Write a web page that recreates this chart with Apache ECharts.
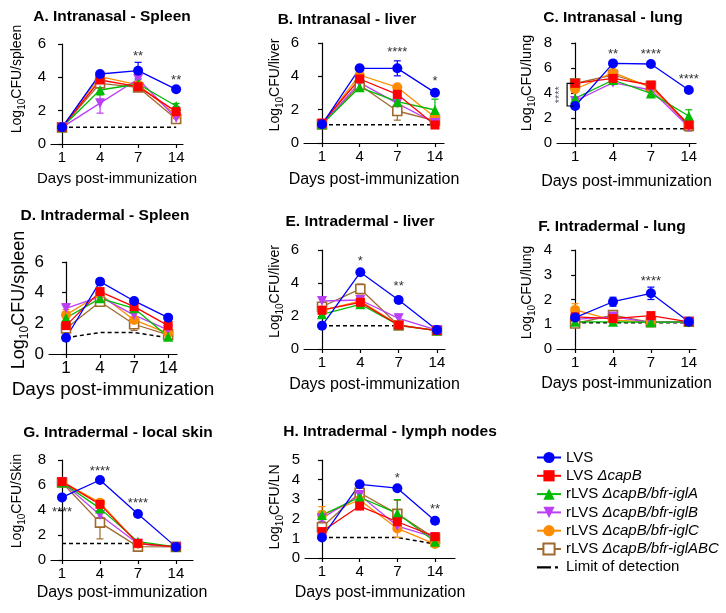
<!DOCTYPE html>
<html><head><meta charset="utf-8">
<script src="https://cdn.jsdelivr.net/npm/echarts@6/dist/echarts.min.js"></script>
<style>html,body{margin:0;padding:0;background:#fff}#c{width:726px;height:613px}</style>
</head><body><div id="c"></div>
<script>
// ---------- DATA ----------
const days = ['1', '4', '7', '14'];
const seriesNames = ['LVS', 'LVS ΔcapB', 'rLVS ΔcapB/bfr-iglA', 'rLVS ΔcapB/bfr-iglB', 'rLVS ΔcapB/bfr-iglC', 'rLVS ΔcapB/bfr-iglABC'];
const lodName = 'Limit of detection';
const panelTitles = ['A. Intranasal - Spleen', 'B. Intranasal - liver', 'C. Intranasal - lung',
  'D. Intradermal - Spleen', 'E. Intradermal - liver', 'F. Intradermal - lung',
  'G. Intradermal - local skin', 'H. Intradermal - lymph nodes'];
const yUnits = ['spleen', 'liver', 'lung', 'spleen', 'liver', 'lung', 'Skin', 'LN'];
const yMax = [6, 6, 8, 6, 6, 4, 8, 5];
const yStep = [2, 2, 2, 2, 2, 1, 2, 1];

// series order in each panel: LVS, capB, iglA, iglB, iglC, iglABC
const panelA_mean = [[1.0, 4.2, 4.4, 3.28], [1.0, 3.84, 3.44, 1.94], [1.0, 3.24, 3.6, 2.28], [1.0, 2.45, 3.9, 1.56], [1.0, 4.04, 3.55, 1.74], [1.0, 3.64, 3.4, 1.5]];
const panelA_err = [[0.05, 0.1, 0.5, 0.1], [0.05, 0.2, 0.15, 0.3], [0.05, 0.3, 0.15, 0.15], [0.05, 0.6, 0.2, 0.2], [0.05, 0.15, 0.15, 0.2], [0.05, 0.15, 0.2, 0.2]];
const panelA_lod = [1.0, 1.0, 1.0, 1.0];
const panelA_sig = ['', '', '**', '**'];
const panelA_sigY = [null, null, 5.45, 4.0];

const panelB_mean = [[1.12, 4.48, 4.48, 3.02], [1.2, 3.84, 2.92, 1.08], [1.12, 3.34, 2.48, 1.98], [1.12, 3.62, 2.38, 1.2], [1.15, 4.08, 3.34, 1.54], [1.12, 3.48, 1.92, 1.34]];
const panelB_err = [[0.05, 0.1, 0.45, 0.1], [0.1, 0.2, 0.25, 0.1], [0.05, 0.2, 0.2, 0.65], [0.05, 0.2, 0.2, 0.15], [0.05, 0.15, 0.1, 0.2], [0.05, 0.2, 0.55, 0.2]];
const panelB_lod = [1.1, 1.1, 1.1, 1.1];
const panelB_sig = ['', '', '****', '*'];
const panelB_sigY = [null, null, 5.6, 3.85];

const panelC_mean = [[2.96, 6.37, 6.32, 4.24], [4.77, 5.17, 4.64, 1.44], [3.57, 5.04, 3.97, 2.16], [3.36, 4.83, 4.24, 1.28], [4.3, 5.63, 4.45, 1.5], [4.77, 5.44, 4.56, 1.36]];
const panelC_err = [[0.1, 0.1, 0.1, 0.15], [0.15, 0.15, 0.15, 0.3], [0.1, 0.15, 0.15, 0.5], [0.1, 0.15, 0.15, 0.2], [0.15, 0.15, 0.15, 0.3], [0.1, 0.15, 0.15, 0.4]];
const panelC_lod = [1.15, 1.15, 1.15, 1.15];
const panelC_sig = ['', '**', '****', '****'];
const panelC_sigY = [null, 7.35, 7.35, 5.35];
const panelC_bracket = ['****'];

const panelD_mean = [[1.06, 4.72, 3.46, 2.37], [1.85, 4.07, 3.09, 1.85], [2.35, 3.63, 2.98, 1.13], [2.98, 3.74, 2.54, 1.57], [2.55, 3.9, 2.22, 1.35], [1.67, 3.41, 1.94, 1.25]];
const panelD_err = [[0.05, 0.1, 0.15, 0.1], [0.25, 0.2, 0.2, 0.2], [0.2, 0.2, 0.2, 0.1], [0.3, 0.2, 0.2, 0.15], [0.35, 0.2, 0.2, 0.2], [0.2, 0.15, 0.4, 0.15]];
const panelD_lod = [1.06, 1.4, 1.4, 1.06];
const panelD_sig = ['', '', '', ''];
const panelD_sigY = [null, null, null, null];

const panelE_mean = [[1.41, 4.65, 2.97, 1.15], [2.35, 2.83, 1.45, 1.12], [2.1, 2.71, 1.45, 1.12], [2.91, 2.97, 1.86, 1.15], [2.35, 2.9, 1.45, 1.12], [2.56, 3.64, 1.42, 1.12]];
const panelE_err = [[0.1, 0.1, 0.2, 0.05], [0.25, 0.2, 0.1, 0.05], [0.2, 0.2, 0.1, 0.05], [0.15, 0.2, 0.25, 0.05], [0.25, 0.2, 0.1, 0.05], [0.2, 0.3, 0.1, 0.05]];
const panelE_lod = [1.41, 1.41, 1.41, null];
const panelE_sig = ['', '*', '**', ''];
const panelE_sigY = [null, 5.5, 3.95, null];

const panelF_mean = [[1.27, 1.91, 2.25, 1.1], [1.3, 1.23, 1.35, 1.1], [1.1, 1.1, 1.08, 1.1], [1.2, 1.3, 1.08, 1.1], [1.58, 1.17, 1.1, 1.1], [1.03, 1.37, 1.08, 1.1]];
const panelF_err = [[0.1, 0.18, 0.25, 0.05], [0.1, 0.1, 0.12, 0.05], [0.05, 0.05, 0.05, 0.05], [0.1, 0.1, 0.05, 0.05], [0.25, 0.1, 0.05, 0.05], [0.05, 0.15, 0.05, 0.05]];
const panelF_lod = [1.06, 1.06, 1.06, 1.06];
const panelF_sig = ['', '', '****', ''];
const panelF_sigY = [null, null, 2.85, null];

const panelG_mean = [[5.01, 6.4, 3.68, 1.05], [6.27, 4.45, 1.33, 1.05], [6.2, 4.13, 1.47, 1.05], [6.25, 3.6, 1.3, 1.05], [6.27, 4.59, 1.3, 1.05], [6.2, 2.99, 1.07, 1.05]];
const panelG_err = [[0.1, 0.1, 0.1, 0.05], [0.15, 0.15, 0.15, 0.05], [0.15, 0.2, 0.1, 0.05], [0.15, 0.2, 0.1, 0.05], [0.15, 0.2, 0.1, 0.05], [0.15, 1.3, 0.1, 0.05]];
const panelG_lod = [1.33, 1.33, 1.33, null];
const panelG_sig = ['****', '****', '****', ''];
const panelG_sigY = [4.05, 7.35, 4.8, null];

const panelH_mean = [[1.05, 3.76, 3.56, 1.9], [1.35, 2.65, 1.85, 1.09], [2.19, 3.1, 2.28, 0.83], [2.03, 3.21, 1.63, 1.05], [2.2, 2.96, 1.51, 0.71], [1.57, 3.33, 2.25, 1.0]];
const panelH_err = [[0.08, 0.1, 0.1, 0.15], [0.2, 0.15, 0.2, 0.1], [0.2, 0.2, 0.7, 0.1], [0.2, 0.2, 0.25, 0.1], [0.42, 0.2, 0.45, 0.1], [0.3, 0.2, 0.7, 0.1]];
const panelH_lod = [1.05, 1.05, 1.05, 0.71];
const panelH_sig = ['', '', '*', '**'];
const panelH_sigY = [null, null, 4.2, 2.65];

// ---------- STYLE / LAYOUT ----------
const FF = "'Liberation Sans', Arial, Helvetica, sans-serif";
const colors = ['#0000FF', '#FF0000', '#00BB00', '#BB3FF5', '#FF8C00', '#A0692E'];
const symbols = ['circle', 'rect', 'triangle', 'triangle', 'circle', 'rect'];
const rotates = [0, 0, 0, 180, 0, 0];
const sizes = [10, 9, 10, 10, 10, 9];

const layout = [
  {l: 51, t: 44, w: 132, h: 100, xmin: -0.29, xmax: 3.18, tx: 112, ty: 17, tick: 15, xname: 15, yname: 14, ygap: 24, yshift: 15, xgap: 27},
  {l: 304, t: 43, w: 140, h: 100, xmin: -0.478, xmax: 3.24, tx: 347, ty: 20, tick: 15, xname: 16, yname: 14, ygap: 19, yshift: 8, xgap: 29},
  {l: 557, t: 43, w: 139, h: 100, xmin: -0.478, xmax: 3.19, tx: 613, ty: 18, tick: 15, xname: 16, yname: 14.5, ygap: 20, yshift: 10, xgap: 31},
  {l: 49, t: 262, w: 128, h: 92, xmin: -0.5, xmax: 3.26, tx: 105, ty: 216, tick: 17, xname: 19, yname: 18, ygap: 14, yshift: 8, xgap: 26},
  {l: 304, t: 250, w: 141, h: 99, xmin: -0.47, xmax: 3.21, tx: 360, ty: 222, tick: 15, xname: 16, yname: 14, ygap: 19, yshift: 8, xgap: 28},
  {l: 557, t: 250, w: 139, h: 99, xmin: -0.478, xmax: 3.19, tx: 612, ty: 227, tick: 15, xname: 16, yname: 14, ygap: 20, yshift: 7, xgap: 27},
  {l: 51, t: 460, w: 142, h: 100, xmin: -0.29, xmax: 3.45, tx: 118, ty: 433, tick: 15, xname: 16, yname: 14, ygap: 24, yshift: 9, xgap: 25},
  {l: 305, t: 460, w: 150, h: 98, xmin: -0.45, xmax: 3.53, tx: 390, ty: 432, tick: 15, xname: 16, yname: 14, ygap: 20, yshift: 2, xgap: 27}
];

const panels = [
  [panelA_mean, panelA_err, panelA_lod, panelA_sig, panelA_sigY],
  [panelB_mean, panelB_err, panelB_lod, panelB_sig, panelB_sigY],
  [panelC_mean, panelC_err, panelC_lod, panelC_sig, panelC_sigY],
  [panelD_mean, panelD_err, panelD_lod, panelD_sig, panelD_sigY],
  [panelE_mean, panelE_err, panelE_lod, panelE_sig, panelE_sigY],
  [panelF_mean, panelF_err, panelF_lod, panelF_sig, panelF_sigY],
  [panelG_mean, panelG_err, panelG_lod, panelG_sig, panelG_sigY],
  [panelH_mean, panelH_err, panelH_lod, panelH_sig, panelH_sigY]
];

const lodIcon = 'path://M0,0h0.05v0.05h-0.05z M0,6h14v2.2h-14z M18,6h3v2.2h-3z M23.95,13.95h0.05v0.05h-0.05z';

const option = {
  animation: false,
  backgroundColor: '#ffffff',
  textStyle: {fontFamily: FF},
  grid: [], xAxis: [], yAxis: [], series: [], graphic: [],
  legend: {
    orient: 'vertical', left: 531, top: 445, itemWidth: 24, itemHeight: 14, itemGap: 3.3,
    selectedMode: false,
    data: seriesNames.map(function (n) { return {name: n}; }).concat([{name: lodName, icon: lodIcon, itemStyle: {color: '#000'}}]),
    formatter: function (name) {
      const k = name.indexOf('Δ');
      if (k < 0) return '{n|' + name + '}';
      return '{n|' + name.slice(0, k) + '}{i|' + name.slice(k) + '}';
    },
    textStyle: {
      fontSize: 15, color: '#000', fontFamily: FF, lineHeight: 14,
      rich: {n: {fontSize: 15, color: '#000', fontFamily: FF, lineHeight: 14}, i: {fontSize: 15, color: '#000', fontStyle: 'italic', fontFamily: FF, lineHeight: 14}}
    }
  }
};

const order = [5, 4, 3, 2, 1, 0];

panels.forEach(function (P, i) {
  const L = layout[i];
  const mean = P[0], err = P[1], lod = P[2], sig = P[3], sigY = P[4];
  option.grid.push({left: L.l, top: L.t, width: L.w, height: L.h, outerBoundsMode: 'none', containLabel: false});
  option.graphic.push({type: 'text', x: L.tx, y: L.ty, style: {text: panelTitles[i], fill: '#000', font: 'bold 15.5px ' + FF, align: 'center', verticalAlign: 'middle'}});
  option.xAxis.push({
    type: 'value', gridIndex: i, min: L.xmin, max: L.xmax,
    axisLine: {show: true, onZero: false, lineStyle: {color: '#000', width: 1.2}},
    axisTick: {show: true, length: 4, customValues: [0, 1, 2, 3], lineStyle: {color: '#000', width: 1.2}},
    axisLabel: {customValues: [0, 1, 2, 3], formatter: function (v) { return days[Math.round(v)]; }, fontSize: L.tick, color: '#000', margin: 6, fontFamily: FF},
    splitLine: {show: false},
    name: 'Days post-immunization', nameLocation: 'middle', nameGap: L.xgap,
    nameTextStyle: {fontSize: L.xname, color: '#000', fontFamily: FF}
  });
  option.yAxis.push({
    type: 'value', gridIndex: i, min: 0, max: yMax[i], interval: yStep[i],
    axisLine: {show: true, lineStyle: {color: '#000', width: 1.2}},
    axisTick: {show: true, length: 4, lineStyle: {color: '#000', width: 1.2}},
    axisLabel: {fontSize: L.tick, color: '#000', margin: 5, fontFamily: FF},
    splitLine: {show: false},
    name: '{a|Log}{s|10}{a|CFU/' + yUnits[i] + '}', nameLocation: 'middle', nameRotate: 90, nameGap: L.ygap,
    nameTextStyle: {
      padding: [0, 0, 0, 2 * L.yshift],
      rich: {
        a: {fontSize: L.yname, color: '#000', fontFamily: FF, lineHeight: L.yname + 6},
        s: {fontSize: Math.round(L.yname * 0.68), color: '#000', fontFamily: FF, verticalAlign: 'bottom'}
      }
    }
  });
  // limit of detection
  option.series.push({
    type: 'line', name: lodName, xAxisIndex: i, yAxisIndex: i, smooth: false,
    data: lod.map(function (v, k) { return v == null ? [k, '-'] : [k, v]; }),
    symbol: 'none', silent: true, z: 2,
    lineStyle: {color: '#000', width: 1.5, type: [4, 3]}, itemStyle: {color: '#000'}
  });
  // error bars and lines
  order.forEach(function (s) {
    const c = colors[s];
    option.series.push({
      type: 'custom', xAxisIndex: i, yAxisIndex: i, silent: true, z: 3,
      encode: {x: 0, y: [1, 2]},
      data: mean[s].map(function (v, k) { return [k, v - err[s][k], v + err[s][k]]; }),
      renderItem: function (params, api) {
        const lo = api.coord([api.value(0), api.value(1)]);
        const hi = api.coord([api.value(0), api.value(2)]);
        const st = {stroke: c, lineWidth: 1.2};
        return {type: 'group', children: [
          {type: 'line', shape: {x1: lo[0], y1: lo[1], x2: hi[0], y2: hi[1]}, style: st},
          {type: 'line', shape: {x1: hi[0] - 3.5, y1: hi[1], x2: hi[0] + 3.5, y2: hi[1]}, style: st},
          {type: 'line', shape: {x1: lo[0] - 3.5, y1: lo[1], x2: lo[0] + 3.5, y2: lo[1]}, style: st}
        ]};
      }
    });
    const open = s === 5;
    option.series.push({
      type: 'line', name: seriesNames[s], xAxisIndex: i, yAxisIndex: i, z: 4, smooth: false,
      data: mean[s].map(function (v, k) { return [k, v]; }),
      symbol: symbols[s], symbolSize: sizes[s], symbolRotate: rotates[s], showAllSymbol: true,
      lineStyle: {color: c, width: 1.3},
      itemStyle: open ? {color: '#ffffff', borderColor: c, borderWidth: 1.6} : {color: c, borderColor: c, borderWidth: 0},
      emphasis: {disabled: true}
    });
  });
  // significance asterisks
  const sigPts = [], sigTxt = [];
  sig.forEach(function (t, k) { if (t) { sigPts.push([k, sigY[k]]); sigTxt.push(t); } });
  if (sigPts.length) {
    option.series.push({
      type: 'custom', xAxisIndex: i, yAxisIndex: i, silent: true, z: 6,
      encode: {x: 0, y: 1}, data: sigPts,
      renderItem: function (params, api) {
        const p = api.coord([api.value(0), api.value(1)]);
        return {type: 'text', x: p[0], y: p[1] + 3, style: {text: sigTxt[params.dataIndex], fill: '#333', font: '13px ' + FF, align: 'center', verticalAlign: 'middle'}};
      }
    });
  }
});

// bracket on panel C, day 1 (between LVS and LVS ΔcapB)
option.series.push({
  type: 'custom', xAxisIndex: 2, yAxisIndex: 2, silent: true, z: 6,
  encode: {x: 0, y: [1, 2]},
  data: [[0, panelC_mean[1][0], panelC_mean[0][0]]],
  renderItem: function (params, api) {
    const a = api.coord([api.value(0), api.value(1)]);
    const b = api.coord([api.value(0), api.value(2)]);
    const bx = a[0] - 8;
    return {type: 'group', children: [
      {type: 'polyline', shape: {points: [[a[0] - 1, a[1]], [bx, a[1]], [bx, b[1]], [b[0] - 1, b[1]]]}, style: {stroke: '#000', lineWidth: 1.2, fill: null}},
      {type: 'text', x: bx - 2, y: (a[1] + b[1]) / 2, rotation: Math.PI / 2,
        style: {text: panelC_bracket[0], fill: '#556', font: '11px ' + FF, align: 'center', verticalAlign: 'bottom'}}
    ]};
  }
});

const chart = echarts.init(document.getElementById('c'), null, {renderer: 'canvas'});
chart.setOption(option);
</script></body></html>
